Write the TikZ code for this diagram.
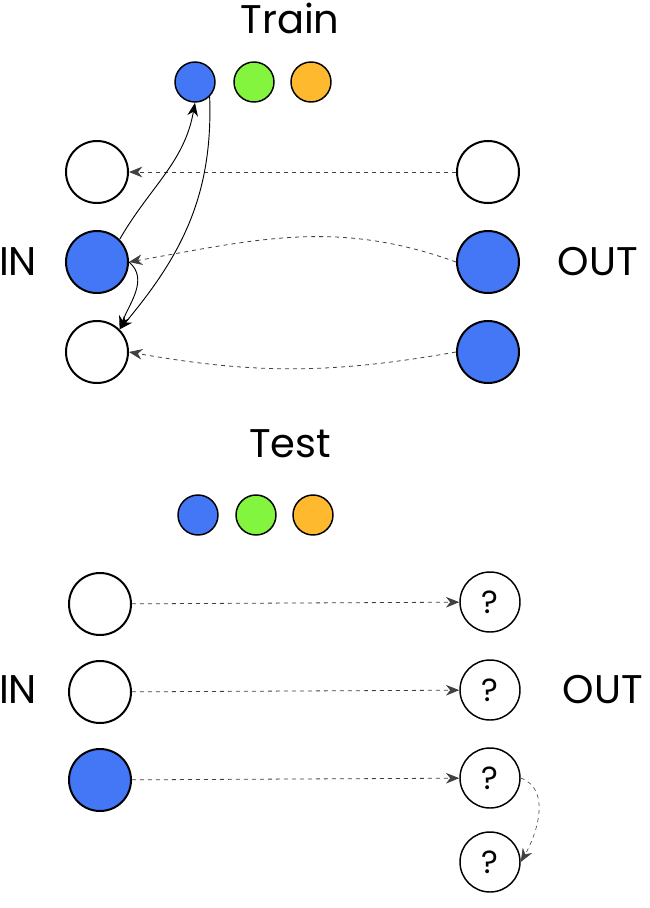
\documentclass[tikz,border=0pt]{standalone}
\usepackage{fontspec}
\setmainfont{Poppins}
\usetikzlibrary{arrows.meta}
\definecolor{bl}{HTML}{4477F5}
\definecolor{gr}{HTML}{84F53E}
\definecolor{or}{HTML}{FFB92E}
\begin{document}
\begin{tikzpicture}[x=0.75pt,y=-0.75pt,
  big/.style={circle,draw,line width=1.5pt,minimum size=46.5pt,inner sep=0pt},
  sm/.style={circle,draw,line width=1.1pt,minimum size=30pt,inner sep=0pt},
  q/.style={circle,draw,line width=1.1pt,minimum size=45pt,inner sep=0pt,font=\fontsize{24}{24}\selectfont},
  lbl/.style={font=\fontsize{30}{30}\selectfont},
  da/.style={dashed,draw=black!75,line width=0.6pt,-{Stealth[length=10pt,width=8pt]}},
  so/.style={line width=0.7pt,-{Stealth[length=10pt,width=8pt]}}]
\useasboundingbox (0,0) rectangle (650,908);
\node[lbl] (tt) at (290,18) {Train};
\node[sm,fill=bl] (c1) at (195,82) {};
\node[sm,fill=gr] (c2) at (254,82) {};
\node[sm,fill=or] (c3) at (311,82) {};
\node[big] (l1) at (97,172) {};
\node[big,fill=bl] (l2) at (97,262) {};
\node[big] (l3) at (97,352) {};
\node[big] (r1) at (488,172) {};
\node[big,fill=bl] (r2) at (488,262) {};
\node[big,fill=bl] (r3) at (488,352) {};
\node[lbl] (in1) at (18,262) {IN};
\node[lbl] (out1) at (598,262) {OUT};
\draw[da] (r1) -- (l1);
\draw[da] (r2.west) to[out=160,in=10] (l2.east);
\draw[da] (r3.west) to[out=190,in=-10] (l3.east);
\draw[so] (l2.north east) to[out=60,in=-100] (c1.south);
\draw[so] (c1.south east) to[out=-88,in=50] (l3.north east);
\draw[so] (l2.east) to[out=-40,in=70] (l3.north east);
\node[lbl] (te) at (290,444) {Test};
\node[sm,fill=bl] (d1) at (198,515) {};
\node[sm,fill=gr] (d2) at (256,515) {};
\node[sm,fill=or] (d3) at (313,515) {};
\node[big] (a1) at (100,604) {};
\node[big] (a2) at (100,692) {};
\node[big,fill=bl] (a3) at (100,780) {};
\node[q] (b1) at (490,602) {?};
\node[q] (b2) at (490,690) {?};
\node[q] (b3) at (490,778) {?};
\node[q] (b4) at (490,862) {?};
\node[lbl] (in2) at (18,690) {IN};
\node[lbl] (out2) at (603,690) {OUT};
\draw[da] (a1) -- (b1);
\draw[da] (a2) -- (b2);
\draw[da] (a3) -- (b3);
\draw[da,line width=0.45pt] (b3.east) to[out=-20,in=60] (b4.east);
\end{tikzpicture}
\end{document}
